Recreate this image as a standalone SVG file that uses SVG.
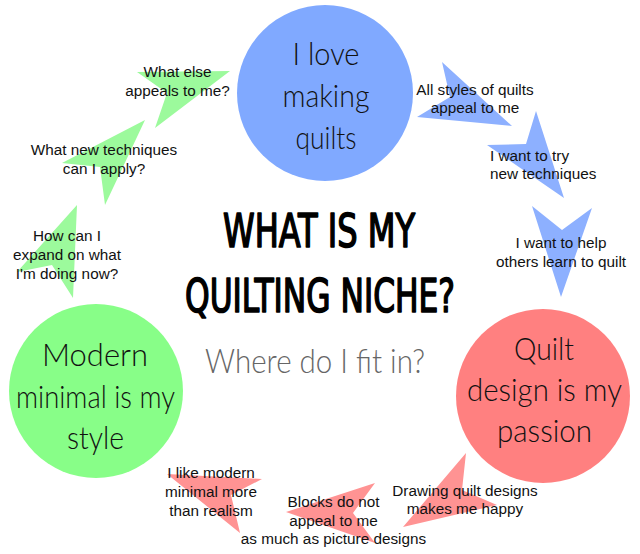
<svg xmlns="http://www.w3.org/2000/svg" width="640" height="554" viewBox="0 0 640 554">
<style>
.big{font-family:Lato,"Open Sans",sans-serif;font-weight:300;font-size:31px;fill:#111;text-anchor:middle}
.lbl{font-family:"Liberation Sans",Arial,sans-serif;font-size:15.3px;fill:#111;text-anchor:middle}
.ttl{font-family:"DejaVu Sans Condensed","DejaVu Sans",sans-serif;font-weight:normal;font-size:46px;fill:#000;stroke:#000;stroke-width:1.6px;stroke-linejoin:round}
.sub{font-family:Lato,"Open Sans",sans-serif;font-weight:300;font-size:33px;fill:#666}
.ab{fill:#8db0ff}.ag{fill:#9cfa9c}.ar{fill:#ff9393}
</style>
<rect width="640" height="554" fill="#fff"/>
<g id="connectors">
<polygon class="ab" points="442,62 512,126 417,117 450,97"/>
<polygon class="ab" points="536,111 564,198 487,145 526,144"/>
<polygon class="ab" points="532,206 562,230 592,208 561,297"/>
<polygon class="ag" points="137,72 230,71 155,128 167,93"/>
<polygon class="ag" points="145,120 105,205 100,167 62,163"/>
<polygon class="ag" points="77,205 73,298 52,265 17,272"/>
<polygon class="ar" points="466,453 462,490 497,505 403,527"/>
<polygon class="ar" points="375,483 353,513 375,543 286,512"/>
<polygon class="ar" points="167,474 262,479 231,495 240,533"/>
</g>
<g id="node-love">
<circle cx="325" cy="93" r="88" fill="#80a9ff"/>
<text class="big" x="326" y="65" textLength="67" lengthAdjust="spacingAndGlyphs">I love</text>
<text class="big" x="326" y="107" textLength="87" lengthAdjust="spacingAndGlyphs">making</text>
<text class="big" x="326" y="149" textLength="61" lengthAdjust="spacingAndGlyphs">quilts</text>
</g>
<g id="node-modern">
<circle cx="96" cy="391" r="87" fill="#88fe88"/>
<text class="big" x="95" y="366" textLength="106" lengthAdjust="spacingAndGlyphs">Modern</text>
<text class="big" x="95.5" y="408" textLength="159" lengthAdjust="spacingAndGlyphs">minimal is my</text>
<text class="big" x="95.5" y="449" textLength="57" lengthAdjust="spacingAndGlyphs">style</text>
</g>
<g id="node-design">
<circle cx="543" cy="396" r="87" fill="#ff8080"/>
<text class="big" x="544" y="360" textLength="60" lengthAdjust="spacingAndGlyphs">Quilt</text>
<text class="big" x="544.5" y="401" textLength="155" lengthAdjust="spacingAndGlyphs">design is my</text>
<text class="big" x="544.5" y="442" textLength="95" lengthAdjust="spacingAndGlyphs">passion</text>
</g>
<g id="title">
<text class="ttl" x="223" y="247" textLength="192" lengthAdjust="spacingAndGlyphs">WHAT IS MY</text>
<text class="ttl" x="185" y="312" textLength="270" lengthAdjust="spacingAndGlyphs">QUILTING NICHE?</text>
<text class="sub" x="205" y="373" textLength="220" lengthAdjust="spacingAndGlyphs">Where do I fit in?</text>
</g>
<g id="labels-blue">
<text class="lbl" x="475" y="95">All styles of quilts</text>
<text class="lbl" x="475" y="113">appeal to me</text>
<text class="lbl" x="490" y="161" style="text-anchor:start">I want to try</text>
<text class="lbl" x="490" y="179" style="text-anchor:start">new techniques</text>
<text class="lbl" x="561" y="248">I want to help</text>
<text class="lbl" x="561" y="267">others learn to quilt</text>
</g>
<g id="labels-green">
<text class="lbl" x="177.5" y="77">What else</text>
<text class="lbl" x="177.5" y="96">appeals to me?</text>
<text class="lbl" x="104" y="155">What new techniques</text>
<text class="lbl" x="104" y="174">can I apply?</text>
<text class="lbl" x="67" y="241">How can I</text>
<text class="lbl" x="67" y="260">expand on what</text>
<text class="lbl" x="67" y="279">I'm doing now?</text>
</g>
<g id="labels-red">
<text class="lbl" x="211" y="478">I like modern</text>
<text class="lbl" x="211" y="497">minimal more</text>
<text class="lbl" x="211" y="516">than realism</text>
<text class="lbl" x="333.5" y="507">Blocks do not</text>
<text class="lbl" x="333.5" y="526">appeal to me</text>
<text class="lbl" x="333.5" y="544">as much as picture designs</text>
<text class="lbl" x="465" y="496">Drawing quilt designs</text>
<text class="lbl" x="465" y="514">makes me happy</text>
</g>
</svg>
